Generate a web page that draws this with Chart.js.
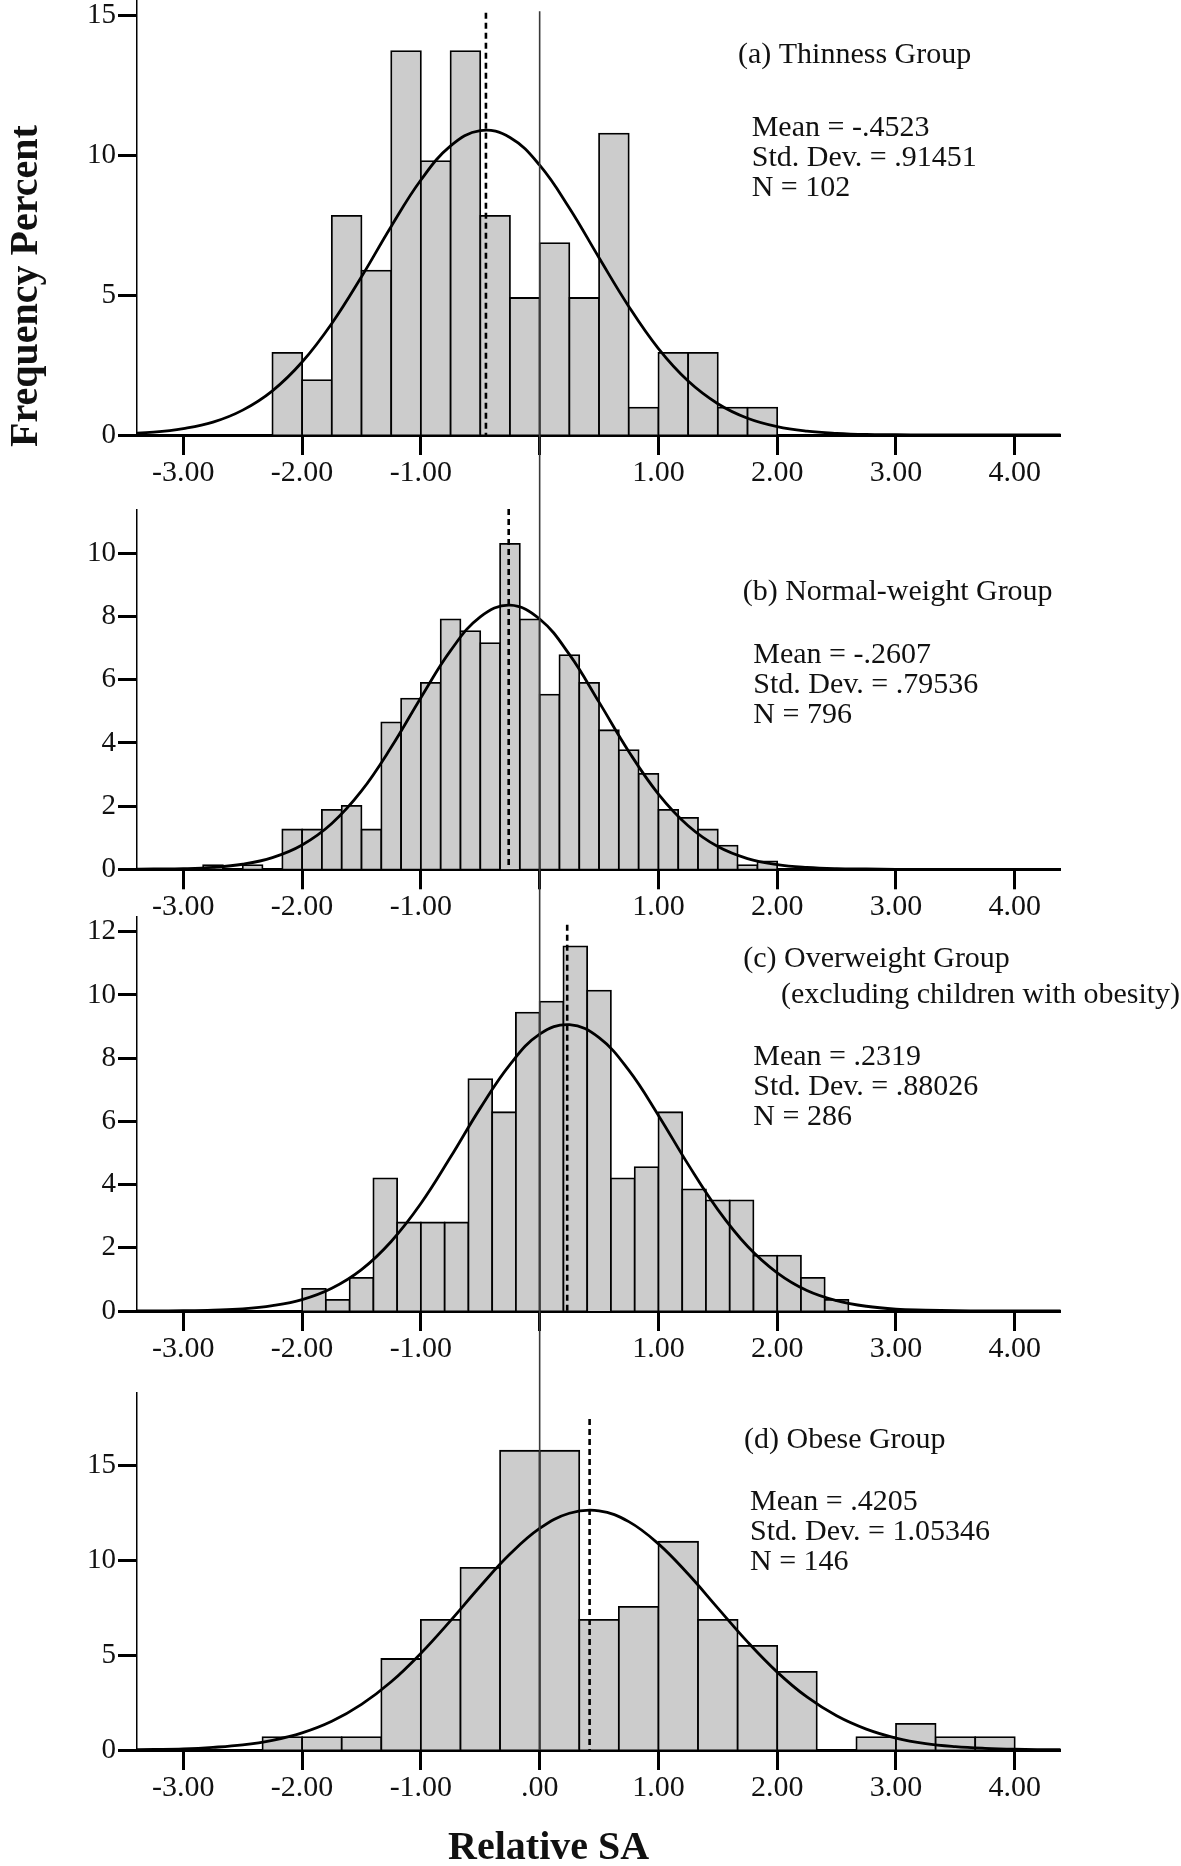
<!DOCTYPE html>
<html>
<head>
<meta charset="utf-8">
<script src="https://cdn.jsdelivr.net/npm/chart.js@4.4.1/dist/chart.umd.min.js"></script>
<style>
  html, body { margin: 0; padding: 0; background: #fff; }
  #wrap { position: relative; width: 1181px; height: 1866px; overflow: hidden; }
  #wrap canvas { position: absolute; left: 0; }
</style>
</head>
<body>
<div id="wrap">
  <canvas id="pa" width="1181" height="490" style="top:0px"></canvas>
  <canvas id="pb" width="1181" height="426" style="top:490px"></canvas>
  <canvas id="pc" width="1181" height="459" style="top:916px"></canvas>
  <canvas id="pd" width="1181" height="491" style="top:1375px"></canvas>
</div>
<script>
// x ticks shared by all four panels
const xTicks = [-3, -2, -1, 0, 1, 2, 3, 4];

// histogram bins: first lower edge, width, then percent per bin
const binStartA = -2.25, binWidthA = 0.25;
const pctA = [2.94, 1.96, 7.84, 5.88, 13.73, 9.80, 13.73, 7.84, 4.90, 6.86, 4.90, 10.78, 0.98, 2.94, 2.94, 0.98, 0.98];

const binStartB = -17 / 6, binWidthB = 1 / 6;
const pctB = [0.13, 0, 0.13, 0, 1.26, 1.26, 1.88, 2.01, 1.26, 4.65, 5.40, 5.90, 7.91, 7.54, 7.16, 10.30, 7.91,
  5.53, 6.78, 5.90, 4.40, 3.77, 3.02, 1.88, 1.63, 1.26, 0.75, 0.13, 0.25];

const binStartC = -2.0, binWidthC = 0.2;
const pctC = [0.70, 0.35, 1.05, 4.20, 2.80, 2.80, 2.80, 7.34, 6.29, 9.44, 9.79, 11.54, 10.14, 4.20, 4.55, 6.29,
  3.85, 3.50, 3.50, 1.75, 1.75, 1.05, 0.35];

const binStartD = -7 / 3, binWidthD = 1 / 3;
const pctD = [0.68, 0.68, 0.68, 4.79, 6.85, 9.59, 15.75, 15.75, 6.85, 7.53, 10.96, 6.85, 5.48, 4.11, 0, 0.68, 1.37, 0.68, 0.68];

// fitted normal curves, read every 0.25 along x
const curveX = [-3.5, -3.25, -3, -2.75, -2.5, -2.25, -2, -1.75, -1.5, -1.25, -1, -0.75, -0.5, -0.25, 0, 0.25, 0.5,
  0.75, 1, 1.25, 1.5, 1.75, 2, 2.25, 2.5, 2.75, 3, 3.25, 3.5, 3.75, 4, 4.25, 4.5];
const curveA = [0.04, 0.10, 0.23, 0.46, 0.89, 1.58, 2.61, 3.99, 5.66, 7.46, 9.12, 10.34, 10.89, 10.64, 9.65, 8.12, 6.34,
  4.60, 3.09, 1.93, 1.12, 0.60, 0.30, 0.14, 0.06, 0.02, 0.01, 0, 0, 0, 0, 0, 0];
const curveB = [0.00, 0.01, 0.02, 0.06, 0.16, 0.37, 0.77, 1.45, 2.48, 3.86, 5.43, 6.92, 7.99, 8.36, 7.92, 6.80, 5.29,
  3.73, 2.38, 1.38, 0.72, 0.34, 0.15, 0.06, 0.02, 0.01, 0, 0, 0, 0, 0, 0, 0];
const curveC = [0.00, 0.00, 0.01, 0.03, 0.07, 0.17, 0.36, 0.72, 1.31, 2.20, 3.40, 4.87, 6.42, 7.80, 8.76, 9.06, 8.65,
  7.62, 6.19, 4.64, 3.21, 2.05, 1.21, 0.65, 0.33, 0.15, 0.06, 0.03, 0.01, 0, 0, 0, 0];
const curveD = [0.01, 0.03, 0.06, 0.14, 0.27, 0.51, 0.90, 1.51, 2.40, 3.59, 5.09, 6.81, 8.62, 10.31, 11.66, 12.46, 12.59,
  12.02, 10.85, 9.26, 7.47, 5.69, 4.10, 2.79, 1.80, 1.10, 0.63, 0.34, 0.18, 0.09, 0.04, 0.02, 0.01];

// group means (dashed lines) and the labels
const means = [-0.4523, -0.2607, 0.2319, 0.4205];
const groupTitles = [
  ["(a) Thinness Group"],
  ["(b) Normal-weight Group"],
  ["(c) Overweight Group", "(excluding children with obesity)"],
  ["(d) Obese Group"],
];
const statLines = [
  ["Mean = -.4523", "Std. Dev. = .91451", "N = 102"],
  ["Mean = -.2607", "Std. Dev. = .79536", "N = 796"],
  ["Mean = .2319", "Std. Dev. = .88026", "N = 286"],
  ["Mean = .4205", "Std. Dev. = 1.05346", "N = 146"],
];
const yTicksA = [0, 5, 10, 15];
const yTicksB = [0, 2, 4, 6, 8, 10];
const yTicksC = [0, 2, 4, 6, 8, 10, 12];
const yTicksD = [0, 5, 10, 15];

const FONT = '"Liberation Serif", "Times New Roman", serif';
const INK = "#111";

const toBars = (start, w, pct) =>
  pct.map((v, i) => ({ x: start + (i + 0.5) * w, y: v > 0 ? v : null }));
const toCurve = (ys) => curveX.map((x, i) => ({ x: x, y: ys[i] }));

const overlay = {
  id: "overlay",
  afterDatasetsDraw(chart, args, o) {
    const { ctx } = chart;
    const x = chart.scales.x, y = chart.scales.y;
    ctx.save();
    // reference line at zero, runs across the panels
    const x0 = x.getPixelForValue(0);
    ctx.strokeStyle = "#3a3a3a";
    ctx.lineWidth = 1.6;
    ctx.beginPath();
    ctx.moveTo(x0, o.zeroTop == null ? 0 : y.getPixelForValue(o.zeroTop));
    ctx.lineTo(x0, o.zeroToAxis ? y.getPixelForValue(0) : chart.height);
    ctx.stroke();
    // mean
    const xm = x.getPixelForValue(o.mean);
    ctx.strokeStyle = "#000";
    ctx.lineWidth = 2.6;
    ctx.setLineDash([6, 4]);
    ctx.beginPath();
    ctx.moveTo(xm, y.getPixelForValue(o.meanTop));
    ctx.lineTo(xm, y.getPixelForValue(0));
    ctx.stroke();
    ctx.restore();
  },
  afterDraw(chart, args, o) {
    const { ctx } = chart;
    ctx.save();
    ctx.fillStyle = INK;
    ctx.textAlign = "left";
    ctx.textBaseline = "alphabetic";
    ctx.font = "30px " + FONT;
    o.title.forEach((t, i) => ctx.fillText(t, o.titlePos[i][0], o.titlePos[i][1]));
    o.stats.forEach((t, i) => ctx.fillText(t, o.statX, o.statY + i * 30));
    if (o.yTitle) {
      ctx.save();
      ctx.font = "bold 40px " + FONT;
      ctx.textAlign = "center";
      ctx.translate(36.7, 286);
      ctx.rotate(-Math.PI / 2);
      ctx.fillText(o.yTitle, 0, 0);
      ctx.restore();
    }
    if (o.xTitle) {
      ctx.font = "bold 40px " + FONT;
      ctx.textAlign = "center";
      ctx.fillText(o.xTitle, 548.6, 484.3);
    }
    ctx.restore();
  },
};

function makePanel(id, p) {
  return new Chart(document.getElementById(id), {
    type: "bar",
    data: {
      datasets: [
        {
          type: "line",
          data: p.curve,
          borderColor: "#000",
          borderWidth: 2.8,
          pointRadius: 0,
          tension: 0.4,
          fill: false,
          order: 0,
        },
        {
          type: "bar",
          data: p.bars,
          backgroundColor: "#cccccc",
          borderColor: "#000",
          borderWidth: 1.8,
          inflateAmount: 0.9,
          barPercentage: 1,
          categoryPercentage: 1,
          order: 1,
        },
      ],
    },
    options: {
      responsive: false,
      animation: false,
      devicePixelRatio: 1,
      layout: { padding: { top: p.padTop, right: 120.5, left: 0, bottom: 0 } },
      plugins: {
        legend: { display: false },
        tooltip: { enabled: false },
        overlay: p.overlay,
      },
      scales: {
        x: {
          type: "linear",
          min: -3.39,
          max: 4.385,
          offset: false,
          z: 1,
          afterBuildTicks: (s) => { s.ticks = xTicks.map((v) => ({ value: v })); },
          afterFit: (s) => { s.height = p.xHeight; s.paddingLeft = 0; s.paddingRight = 0; },
          grid: { offset: false, drawOnChartArea: false, drawTicks: true, tickLength: 20, tickWidth: 3, tickColor: "#000" },
          border: { display: true, color: "#000", width: 3 },
          ticks: {
            autoSkip: false,
            maxRotation: 0,
            minRotation: 0,
            padding: 3,
            color: INK,
            font: { family: FONT, size: 30, lineHeight: 1 },
            callback: (v) => (v === 0 ? p.zeroLabel : v.toFixed(2)),
          },
        },
        y: {
          min: 0,
          max: p.yMax,
          afterBuildTicks: (s) => { s.ticks = p.yTicks.map((v) => ({ value: v })); },
          afterFit: (s) => { s.width = 137; s.paddingTop = 0; s.paddingBottom = 0; },
          grid: { drawOnChartArea: false, drawTicks: true, tickLength: 19, tickWidth: 3, tickColor: "#000" },
          border: { display: true, color: "#000", width: 1.5 },
          ticks: { padding: 2, color: INK, font: { family: FONT, size: 29, lineHeight: 1 } },
        },
      },
    },
    plugins: [overlay],
  });
}

makePanel("pa", {
  bars: toBars(binStartA, binWidthA, pctA),
  curve: toCurve(curveA),
  yMax: 15.56, yTicks: yTicksA, padTop: 0, xHeight: 55, zeroLabel: "",
  overlay: {
    mean: means[0], meanTop: 15.1, zeroTop: 15.16, zeroToAxis: false,
    title: groupTitles[0], titlePos: [[738, 62.7]],
    stats: statLines[0], statX: 751.7, statY: 136,
    yTitle: "Frequency Percent",
  },
});

makePanel("pb", {
  bars: toBars(binStartB, binWidthB, pctB),
  curve: toCurve(curveB),
  yMax: 11.37, yTicks: yTicksB, padTop: 20, xHeight: 46.7, zeroLabel: "",
  overlay: {
    mean: means[1], meanTop: 11.4, zeroTop: null, zeroToAxis: false,
    title: groupTitles[1], titlePos: [[742.7, 110]],
    stats: statLines[1], statX: 753.3, statY: 173.3,
  },
});

makePanel("pc", {
  bars: toBars(binStartC, binWidthC, pctC),
  curve: toCurve(curveC),
  yMax: 12.5, yTicks: yTicksC, padTop: 0, xHeight: 64, zeroLabel: "",
  overlay: {
    mean: means[2], meanTop: 12.22, zeroTop: null, zeroToAxis: false,
    title: groupTitles[2], titlePos: [[743.3, 50.7], [781, 87.3]],
    stats: statLines[2], statX: 753.3, statY: 149,
  },
});

makePanel("pd", {
  bars: toBars(binStartD, binWidthD, pctD),
  curve: toCurve(curveD),
  yMax: 18.79, yTicks: yTicksD, padTop: 18, xHeight: 116, zeroLabel: ".00",
  overlay: {
    mean: means[3], meanTop: 17.42, zeroTop: null, zeroToAxis: true,
    title: groupTitles[3], titlePos: [[744, 73]],
    stats: statLines[3], statX: 750, statY: 135,
    xTitle: "Relative SA",
  },
});
</script>
</body>
</html>
